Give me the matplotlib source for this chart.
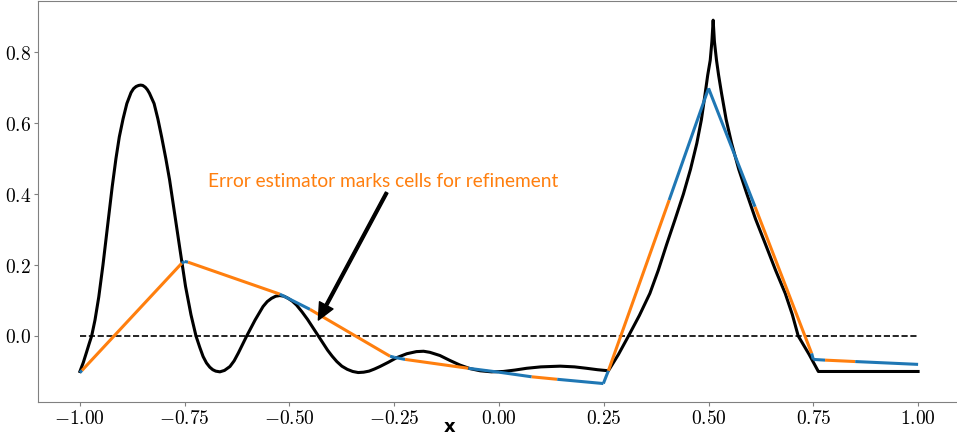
import numpy as np
import matplotlib.pyplot as plt

plt.rcParams['mathtext.fontset'] = 'cm'

# exact function (black curve)
curve_x = [-1.000, -0.992, -0.984, -0.978, -0.972, -0.964, -0.955, -0.945, -0.935, -0.923,
           -0.914, -0.906, -0.897, -0.888, -0.878, -0.872, -0.866, -0.860, -0.855, -0.850,
           -0.844, -0.839, -0.834, -0.823, -0.814, -0.805, -0.795, -0.786, -0.774, -0.761,
           -0.748, -0.735, -0.723, -0.714, -0.706, -0.698, -0.690, -0.683, -0.676, -0.666,
           -0.655, -0.642, -0.632, -0.622, -0.612, -0.602, -0.582, -0.563, -0.553, -0.543,
           -0.533, -0.523, -0.513, -0.503, -0.493, -0.483, -0.470, -0.457, -0.431, -0.409,
           -0.398, -0.387, -0.375, -0.362, -0.349, -0.336, -0.323, -0.310, -0.297, -0.284,
           -0.264, -0.244, -0.220, -0.197, -0.180, -0.165, -0.141, -0.117, -0.093, -0.069,
           -0.045, -0.018, 0.010, 0.038, 0.066, 0.100, 0.146, 0.180, 0.209, 0.235,
           0.261, 0.285, 0.309, 0.335, 0.360, 0.380, 0.400, 0.420, 0.440, 0.457,
           0.472, 0.483, 0.492, 0.498, 0.504, 0.508, 0.511, 0.514, 0.519, 0.524,
           0.531, 0.542, 0.555, 0.572, 0.591, 0.612, 0.635, 0.660, 0.683, 0.700,
           0.714, 0.740, 0.762, 1.000]
curve_y = [-0.100, -0.075, -0.045, -0.022, 0.000, 0.045, 0.110, 0.200, 0.300, 0.420,
           0.500, 0.561, 0.612, 0.655, 0.686, 0.697, 0.703, 0.706, 0.707, 0.706,
           0.701, 0.694, 0.684, 0.655, 0.612, 0.561, 0.500, 0.440, 0.345, 0.242,
           0.140, 0.060, 0.000, -0.032, -0.058, -0.076, -0.088, -0.095, -0.099, -0.101,
           -0.097, -0.086, -0.070, -0.048, -0.024, 0.000, 0.045, 0.083, 0.097, 0.106,
           0.112, 0.114, 0.112, 0.106, 0.098, 0.087, 0.068, 0.047, 0.000, -0.040,
           -0.057, -0.072, -0.085, -0.094, -0.100, -0.103, -0.102, -0.099, -0.093, -0.086,
           -0.074, -0.061, -0.050, -0.044, -0.043, -0.046, -0.055, -0.069, -0.082, -0.092,
           -0.098, -0.101, -0.100, -0.096, -0.091, -0.087, -0.085, -0.087, -0.091, -0.095,
           -0.098, -0.052, 0.000, 0.058, 0.120, 0.185, 0.258, 0.328, 0.400, 0.470,
           0.543, 0.610, 0.684, 0.735, 0.777, 0.830, 0.890, 0.830, 0.777, 0.735,
           0.684, 0.610, 0.543, 0.470, 0.402, 0.330, 0.261, 0.185, 0.120, 0.060,
           0.000, -0.052, -0.100, -0.100]

# interpolant: points along it, and which pieces are marked (orange) or not (blue)
interp_x = [-1.000, -0.995, -0.757, -0.750, -0.742, -0.523, -0.451, -0.260, -0.250, -0.224,
            -0.073, 0.000, 0.078, 0.139, 0.249, 0.261, 0.406, 0.500, 0.611, 0.746,
            0.750, 0.778, 0.850, 1.000]
interp_y = [-0.103, -0.097, 0.205, 0.210, 0.208, 0.118, 0.075, -0.057, -0.060, -0.066,
            -0.091, -0.102, -0.115, -0.122, -0.134, -0.098, 0.383, 0.698, 0.364, -0.049,
            -0.066, -0.068, -0.072, -0.080]
marked = [0, 1, 0, 0, 1, 0, 1, 0, 0, 1,
          0, 0, 1, 0, 0, 1, 0, 0, 1, 0,
          0, 1, 0]

xticks = [-1.0, -0.75, -0.5, -0.25, 0.0, 0.25, 0.5, 0.75, 1.0]
yticks = [0.0, 0.2, 0.4, 0.6, 0.8]

fig = plt.figure(figsize=(9.57, 4.37), dpi=100)
ax = fig.add_axes([38/957, 35/437, 922/957, 401/437])

ax.plot(curve_x, curve_y, color='black', lw=2.2, zorder=2)
ax.plot([-1.0, 1.0], [0.0, 0.0], 'k--', lw=1.2, zorder=2)
for i in range(len(marked)):
    c = '#ff7f0e' if marked[i] else '#1f77b4'
    ax.plot(interp_x[i:i+2], interp_y[i:i+2], color=c, lw=2.2,
            solid_capstyle='butt', zorder=3)

ax.text(-0.695, 0.42, "Error estimator marks cells for refinement", color='#ff7f0e',
        fontsize=13.8, family='Lato', va='baseline')
ax.annotate('', xy=(-0.431, 0.045), xytext=(-0.268, 0.404),
            arrowprops=dict(facecolor='black', edgecolor='black', width=2,
                            headwidth=11, headlength=12, shrink=0))

ax.set_xlim(-1.1, 1.1)
ax.set_ylim(-0.186, 0.944)
ax.set_xticks(xticks)
ax.set_yticks(yticks)
ax.set_xticklabels([r'$%.2f$' % v for v in xticks])
ax.set_yticklabels([r'$%.1f$' % v for v in yticks])
ax.tick_params(labelsize=14, length=3, pad=2, color='gray')
for s in ax.spines.values():
    s.set_color('gray')
ax.set_xlabel('x', fontsize=13, fontweight='bold', va='center')
ax.xaxis.set_label_coords(0.446, -0.062)

fig.savefig('out.png', dpi=100)
